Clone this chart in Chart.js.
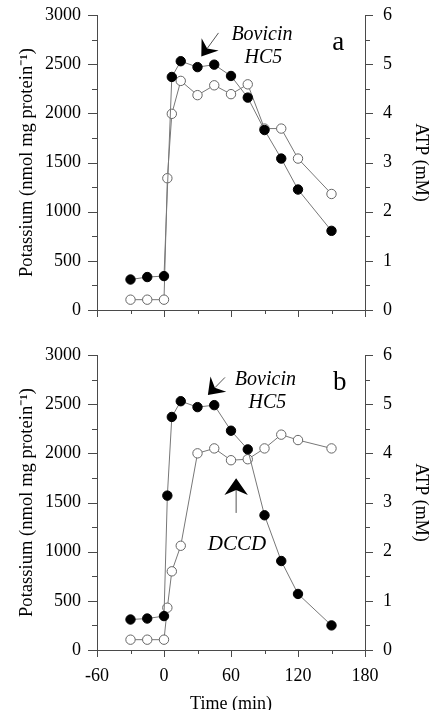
<!DOCTYPE html>
<html><head><meta charset="utf-8">
<script src="https://cdn.jsdelivr.net/npm/chart.js@4.4.1/dist/chart.umd.min.js"></script>
<style>
html,body{margin:0;padding:0;background:#fff;}
body{width:429px;height:710px;position:relative;overflow:hidden;}
.box{position:absolute;left:0;width:429px;}
#boxA{top:0;height:330px;}
#boxB{top:340px;height:370px;}
canvas{display:block;}
</style></head><body>
<div class="box" id="boxA"><canvas id="chartA" width="429" height="330"></canvas></div>
<div class="box" id="boxB"><canvas id="chartB" width="429" height="370"></canvas></div>
<script>
// ---- tick labels ----
const timeTicks = [-60, 0, 60, 120, 180];
const potassiumTicks = [0, 500, 1000, 1500, 2000, 2500, 3000];
const atpTicks = [0, 1, 2, 3, 4, 5, 6];

// ---- panel a ----
const timesA_K = [-30, -15, 0, 7, 15, 30, 45, 60, 75, 90, 105, 120, 150];
const potassiumA = [310, 335, 345, 2370, 2530, 2470, 2495, 2380, 2160, 1830, 1540, 1225, 805];
const timesA_ATP = [-30, -15, 0, 3, 7, 15, 30, 45, 60, 75, 90, 105, 120, 150];
const atpA = [0.21, 0.21, 0.21, 2.68, 3.99, 4.66, 4.37, 4.57, 4.39, 4.59, 3.69, 3.69, 3.08, 2.36];

// ---- panel b ----
const timesB = [-30, -15, 0, 3, 7, 15, 30, 45, 60, 75, 90, 105, 120, 150];
const potassiumB = [310, 320, 345, 1570, 2370, 2530, 2470, 2490, 2230, 2040, 1370, 905, 570, 250];
const atpB = [0.21, 0.21, 0.21, 0.86, 1.6, 2.12, 4.0, 4.1, 3.86, 3.88, 4.1, 4.38, 4.27, 4.1];

// ---- annotation texts ----
const bovicinLines = ['Bovicin', 'HC5'];
const dccdLabel = 'DCCD';
const panelLetters = ['a', 'b'];

const FONT = '"Liberation Serif", "Times New Roman", serif';
const AXIS = '#4a4a4a';
const LINE = '#777';
const CLEAR = 'rgba(0,0,0,0)';

function pts(xs, ys) { return xs.map((t, i) => ({x: t, y: ys[i]})); }

const tickMarks = {
  id: 'tickMarks',
  afterDraw(chart) {
    const ctx = chart.ctx, a = chart.chartArea;
    const {x, y, y2} = chart.scales;
    ctx.save();
    ctx.strokeStyle = AXIS; ctx.lineWidth = 1;
    ctx.beginPath();
    potassiumTicks.forEach((v, i) => {
      let p = Math.round(y.getPixelForValue(v)) + 0.5;
      ctx.moveTo(a.left, p); ctx.lineTo(a.left - 9, p);
      if (i < potassiumTicks.length - 1) {
        p = Math.round(y.getPixelForValue((v + potassiumTicks[i + 1]) / 2)) + 0.5;
        ctx.moveTo(a.left, p); ctx.lineTo(a.left - 5, p);
      }
    });
    atpTicks.forEach((v, i) => {
      let p = Math.round(y2.getPixelForValue(v)) + 0.5;
      ctx.moveTo(a.right, p); ctx.lineTo(a.right + 8, p);
      if (i < atpTicks.length - 1) {
        p = Math.round(y2.getPixelForValue((v + atpTicks[i + 1]) / 2)) + 0.5;
        ctx.moveTo(a.right, p); ctx.lineTo(a.right + 5, p);
      }
    });
    timeTicks.forEach((v, i) => {
      let p = Math.round(x.getPixelForValue(v)) + 0.5;
      ctx.moveTo(p, a.bottom); ctx.lineTo(p, a.bottom + 7);
      if (i < timeTicks.length - 1) {
        p = Math.round(x.getPixelForValue((v + timeTicks[i + 1]) / 2)) + 0.5;
        ctx.moveTo(p, a.bottom); ctx.lineTo(p, a.bottom + 4);
      }
    });
    ctx.stroke();
    ctx.restore();
  }
};

function arrow(ctx, tx, ty, ex, ey, L, W, N) {
  const dx = ex - tx, dy = ey - ty, d = Math.hypot(dx, dy);
  const ux = dx / d, uy = dy / d, nx = -uy, ny = ux;
  ctx.beginPath();
  ctx.moveTo(tx + ux * N, ty + uy * N);
  ctx.lineTo(ex, ey);
  ctx.strokeStyle = '#555'; ctx.lineWidth = 1; ctx.stroke();
  ctx.beginPath();
  ctx.moveTo(tx, ty);
  ctx.lineTo(tx + ux * L + nx * W, ty + uy * L + ny * W);
  ctx.lineTo(tx + ux * N, ty + uy * N);
  ctx.lineTo(tx + ux * L - nx * W, ty + uy * L - ny * W);
  ctx.closePath();
  ctx.fillStyle = '#000'; ctx.fill();
}

const notes = {
  id: 'notes',
  afterDraw(chart, args, opts) {
    const ctx = chart.ctx;
    const {x, y} = chart.scales;
    const X = v => x.getPixelForValue(v), Y = v => y.getPixelForValue(v);
    ctx.save();
    (opts.arrows || []).forEach(ar => {
      arrow(ctx, X(ar.tip[0]), Y(ar.tip[1]), X(ar.tail[0]), Y(ar.tail[1]), ar.L, ar.W, ar.N);
    });
    ctx.fillStyle = '#000';
    ctx.textAlign = 'center';
    ctx.textBaseline = 'alphabetic';
    (opts.texts || []).forEach(t => {
      ctx.font = t.font;
      ctx.fillText(t.text, X(t.at[0]), Y(t.at[1]));
    });
    ctx.restore();
  }
};

function makeChart(id, isB, kx, ky, ax, ay, noteOpts) {
  return new Chart(document.getElementById(id), {
    type: 'line',
    data: {
      datasets: [
        {data: pts(kx, ky), yAxisID: 'y', borderColor: LINE, borderWidth: 1,
         pointRadius: 4.7, pointBackgroundColor: '#000', pointBorderColor: '#000',
         pointBorderWidth: 1, tension: 0, order: 0},
        {data: pts(ax, ay), yAxisID: 'y2', borderColor: LINE, borderWidth: 1,
         pointRadius: 4.7, pointBackgroundColor: '#fff', pointBorderColor: '#666',
         pointBorderWidth: 1, tension: 0, order: 1}
      ]
    },
    options: {
      responsive: false, animation: false, devicePixelRatio: 1,
      layout: {padding: {top: 15, left: 0, right: 0, bottom: 0}},
      plugins: {legend: {display: false}, tooltip: {enabled: false}, notes: noteOpts},
      scales: {
        x: {
          type: 'linear', min: -60, max: 180, position: 'bottom',
          afterBuildTicks: s => { s.ticks = timeTicks.map(v => ({value: v})); },
          ticks: {display: isB, padding: 0, color: '#000', font: {family: FONT, size: 18, weight: 400},
                  autoSkip: false, maxRotation: 0, callback: v => String(v)},
          grid: {display: true, drawOnChartArea: false, drawTicks: true, tickLength: 15, tickColor: CLEAR},
          border: {display: true, color: AXIS, width: 1},
          title: {display: isB, text: 'Time (min)', color: '#000',
                  font: {family: FONT, size: 18, lineHeight: 1, weight: 400}, padding: {top: 0, bottom: -3}},
          afterFit: s => { s.height = isB ? 60 : 20; }
        },
        y: {
          type: 'linear', min: 0, max: 3000, position: 'left',
          afterBuildTicks: s => { s.ticks = potassiumTicks.map(v => ({value: v})); },
          ticks: {padding: 0, color: '#000', font: {family: FONT, size: 18, weight: 400}, callback: v => String(v)},
          grid: {display: true, drawOnChartArea: false, drawTicks: true, tickLength: 16, tickColor: CLEAR},
          border: {display: true, color: AXIS, width: 1},
          title: {display: true, text: 'Potassium (nmol mg protein\u207B\u00B9)', color: '#000',
                  font: {family: FONT, size: 18.6, lineHeight: 1.2, weight: 400}, padding: {top: 15.5, bottom: 0}},
          afterFit: s => { s.width = 97; }
        },
        y2: {
          type: 'linear', min: 0, max: 6, position: 'right',
          afterBuildTicks: s => { s.ticks = atpTicks.map(v => ({value: v})); },
          ticks: {padding: 0, color: '#000', font: {family: FONT, size: 18, weight: 400}, callback: v => String(v)},
          grid: {display: true, drawOnChartArea: false, drawTicks: true, tickLength: 18, tickColor: CLEAR},
          border: {display: true, color: AXIS, width: 1},
          title: {display: true, text: 'ATP (mM)', color: '#000',
                  font: {family: FONT, size: 18, lineHeight: 1, weight: 400}, padding: {top: -1, bottom: 0}},
          afterFit: s => { s.width = 64; }
        }
      }
    },
    plugins: [tickMarks, notes]
  });
}

const ITAL = 'italic 20px ' + FONT;
makeChart('chartA', false, timesA_K, potassiumA, timesA_ATP, atpA, {
  arrows: [{tip: [33.4, 2577], tail: [48.8, 2818], L: 15, W: 10.5, N: 10}],
  texts: [
    {text: bovicinLines[0], at: [87.7, 2747], font: ITAL},
    {text: bovicinLines[1], at: [89.0, 2513], font: ITAL},
    {text: panelLetters[0], at: [156, 2645], font: '27px ' + FONT}
  ]
});
makeChart('chartB', true, timesB, potassiumB, timesB, atpB, {
  arrows: [
    {tip: [39.3, 2594], tail: [54.6, 2772], L: 15, W: 11, N: 10},
    {tip: [64.6, 1747], tail: [64.6, 1394], L: 16.7, W: 11.7, N: 11.7}
  ],
  texts: [
    {text: bovicinLines[0], at: [90.8, 2696], font: ITAL},
    {text: bovicinLines[1], at: [92.6, 2459], font: ITAL},
    {text: dccdLabel, at: [65.4, 1017], font: 'italic 21px ' + FONT},
    {text: panelLetters[1], at: [157.3, 2645], font: '27px ' + FONT}
  ]
});
</script>
</body></html>
